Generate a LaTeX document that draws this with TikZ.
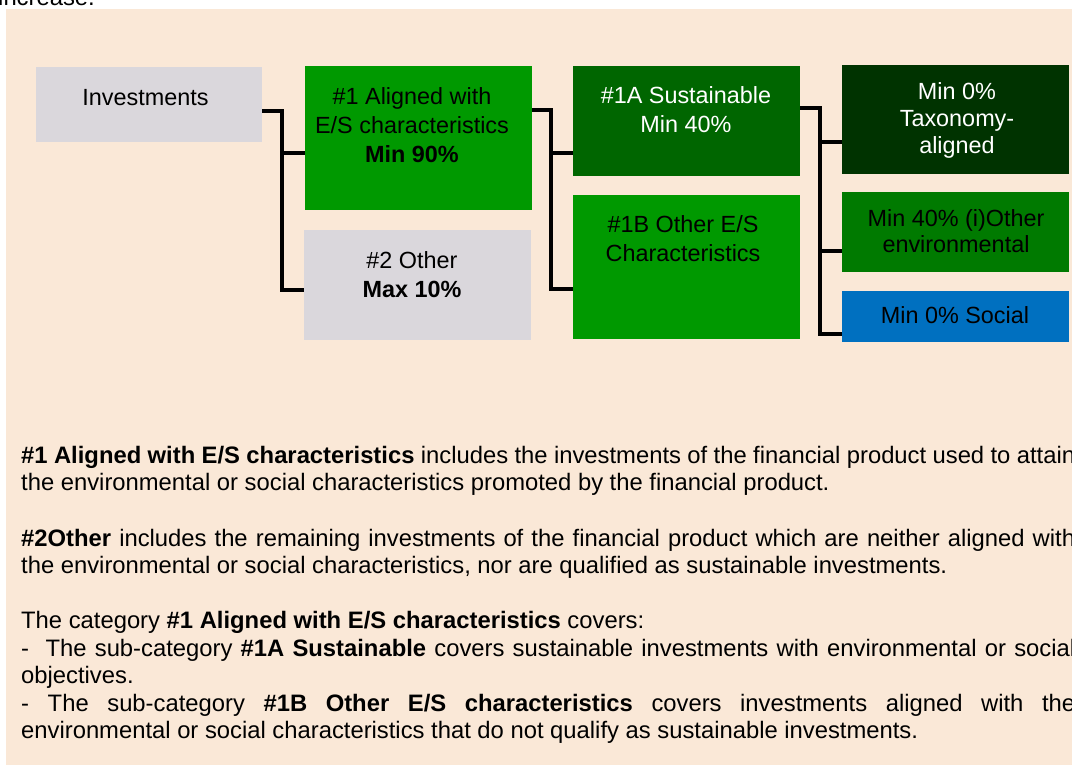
\documentclass[tikz,border=0pt]{standalone}
\usepackage{fontspec}
\setmainfont{Liberation Sans}
\usetikzlibrary{positioning}
\definecolor{bgbeige}{HTML}{FAE8D7}
\definecolor{boxgray}{HTML}{DAD7DC}
\definecolor{grnA}{HTML}{009900}
\definecolor{grnB}{HTML}{006600}
\definecolor{grnC}{HTML}{003300}
\definecolor{grnD}{HTML}{007A00}
\definecolor{blueS}{HTML}{0070C0}
\newcommand{\jline}[1]{\hbox to 1054pt{#1}}

\begin{document}
\begin{tikzpicture}[x=1pt, y=-1pt,
    box/.style={draw=none, inner sep=0pt, anchor=north west},
    lbl/.style={font=\fontsize{23.4}{29}\selectfont, align=center, inner sep=0pt, anchor=base},
    body/.style={font=\fontsize{23.8}{27.4}\selectfont, inner sep=0pt, anchor=base west},
    conn/.style={line width=3.6pt, black, line join=miter}]
    \useasboundingbox (0,0) rectangle (1072,764);
    \clip (0,0) rectangle (1072,764);
    \fill[bgbeige] (6,9) rectangle (1080,770);
    \node[body, anchor=base east] (head) at (95,5) {increase.};
    % level 0 and 1 (label nodes sit on the baseline of their last line)
    \node[box, fill=boxgray, minimum width=226pt, minimum height=75pt] (inv) at (36,67) {};
    \node[box, fill=grnA, minimum width=227pt, minimum height=144pt] (al) at (305,66) {};
    \node[box, fill=boxgray, minimum width=227pt, minimum height=110pt] (oth) at (304,230) {};
    \node[lbl] (inv-t) at (145.5,105) {Investments};
    \node[lbl] (al-t) at (412,162) {\#1 Aligned with\\E/S characteristics\\\textbf{Min 90\%}};
    \node[lbl] (oth-t) at (412,297) {\#2 Other\\\textbf{Max 10\%}};
    % level 2
    \node[box, fill=grnB, minimum width=227pt, minimum height=110pt] (sus) at (573,66) {};
    \node[box, fill=grnA, minimum width=227pt, minimum height=144pt] (oes) at (573,195) {};
    \node[lbl, text=white] (sus-t) at (686,132) {\#1A Sustainable\\Min 40\%};
    \node[lbl] (oes-t) at (683,261) {\#1B Other E/S\\Characteristics};
    % level 3
    \node[box, fill=grnC, minimum width=227pt, minimum height=109pt] (tax) at (842,65) {};
    \node[box, fill=grnD, minimum width=227pt, minimum height=80pt] (env) at (842,192) {};
    \node[box, fill=blueS, minimum width=227pt, minimum height=51pt] (soc) at (842,291) {};
    \node[lbl, text=white, font=\fontsize{23.4}{27}\selectfont] (tax-t) at (957,153) {Min 0\%\\Taxonomy-\\aligned};
    \node[lbl, font=\fontsize{23.4}{26}\selectfont] (env-t) at (956,252) {Min 40\% (i)Other\\environmental};
    \node[lbl] (soc-t) at (955,323) {Min 0\% Social};
    % connectors
    \coordinate (j1) at (282,111); \coordinate (j1a) at (282,153); \coordinate (j1b) at (282,290);
    \draw[conn] (inv.east |- j1) -- (j1) -- (j1b) -- (oth.west |- j1b);
    \draw[conn] (j1a) -- (al.west |- j1a);
    \coordinate (j2) at (551,110); \coordinate (j2a) at (551,153); \coordinate (j2b) at (551,289);
    \draw[conn] (al.east |- j2) -- (j2) -- (j2b) -- (oes.west |- j2b);
    \draw[conn] (j2a) -- (sus.west |- j2a);
    \coordinate (j3) at (820,108); \coordinate (j3a) at (820,142);
    \coordinate (j3b) at (820,251); \coordinate (j3c) at (820,334);
    \draw[conn] (sus.east |- j3) -- (j3) -- (j3c) -- (soc.west |- j3c);
    \draw[conn] (j3a) -- (tax.west |- j3a);
    \draw[conn] (j3b) -- (env.west |- j3b);
    % notes
    \node[body] (p1) at (21,463) {\jline{\textbf{\#1 Aligned with E/S characteristics} includes the investments of the financial product used to attain}};
    \node[body] (p2) at (21,490) {the environmental or social characteristics promoted by the financial product.};
    \node[body] (p3) at (21,546) {\jline{\textbf{\#2Other} includes the remaining investments of the financial product which are neither aligned with}};
    \node[body] (p4) at (21,573) {the environmental or social characteristics, nor are qualified as sustainable investments.};
    \node[body] (p5) at (21,628) {The category \textbf{\#1 Aligned with E/S characteristics} covers:};
    \node[body] (p6) at (21,656) {\jline{-\ \ The sub-category \textbf{\#1A Sustainable} covers sustainable investments with environmental or social}};
    \node[body] (p7) at (21,683) {objectives.};
    \node[body] (p8) at (21,711) {\jline{- The sub-category \textbf{\#1B Other E/S characteristics} covers investments aligned with the}};
    \node[body] (p9) at (21,738) {environmental or social characteristics that do not qualify as sustainable investments.};
  \end{tikzpicture}
\end{document}
